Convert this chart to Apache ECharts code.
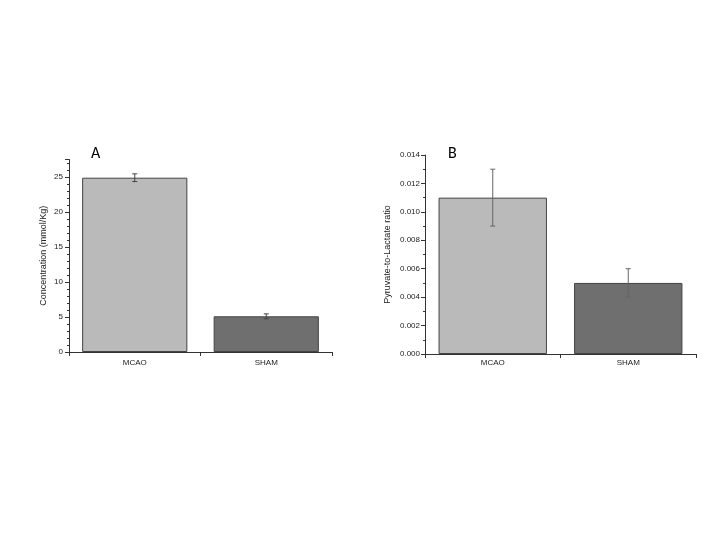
<!DOCTYPE html>
<html>
<head>
<meta charset="utf-8">
<script src="https://cdn.jsdelivr.net/npm/echarts@6/dist/echarts.min.js"></script>
<style>
  html, body { margin: 0; padding: 0; background: #fff; }
  #main { width: 720px; height: 540px; }
</style>
</head>
<body>
<div id="main"></div>
<script>
// data
const groups = ['MCAO', 'SHAM']
const concValues = [24.9, 5.1]
const concErrors = [0.55, 0.35]
const ratioValues = [0.011, 0.005]
const ratioErrors = [0.002, 0.001]
const barColors = ['#bababa', '#6f6f6f']

const chart = echarts.init(document.getElementById('main'))

// error bars drawn through the axis scale
function errorBar (color) {
  return function (params, api) {
    const x = api.value(0)
    const lo = api.coord([x, api.value(1)])
    const hi = api.coord([x, api.value(2)])
    const cap = 2.5
    const style = { stroke: color, lineWidth: 1 }
    return {
      type: 'group',
      children: [
        { type: 'line', shape: { x1: lo[0], y1: lo[1], x2: hi[0], y2: hi[1] }, style },
        { type: 'line', shape: { x1: lo[0] - cap, y1: lo[1], x2: lo[0] + cap, y2: lo[1] }, style },
        { type: 'line', shape: { x1: hi[0] - cap, y1: hi[1], x2: hi[0] + cap, y2: hi[1] }, style }
      ]
    }
  }
}

const font = 'Liberation Sans, Arial, sans-serif'
const axisLine = { show: true, lineStyle: { color: '#333', width: 1 } }

function xAxisOf (gridIndex, margin) {
  return {
    type: 'category',
    gridIndex,
    data: groups,
    axisLine,
    axisTick: { show: true, length: 4, lineStyle: { color: '#333' } },
    axisLabel: { color: '#222', fontSize: 8, fontFamily: font, margin },
    splitLine: { show: false }
  }
}

const options = {
  animation: false,
  title: [
    { text: 'A', left: 86, top: 141, textStyle: { fontSize: 16, fontWeight: 'normal', color: '#000', fontFamily: 'Carlito, Liberation Sans, sans-serif' } },
    { text: 'B', left: 443, top: 141, textStyle: { fontSize: 16, fontWeight: 'normal', color: '#000', fontFamily: 'Carlito, Liberation Sans, sans-serif' } }
  ],
  grid: [
    { left: 69, top: 159.5, width: 263, height: 192.5 },
    { left: 425, top: 155, width: 271, height: 199 }
  ],
  xAxis: [xAxisOf(0, 7), xAxisOf(1, 5)],
  yAxis: [
    {
      type: 'value',
      gridIndex: 0,
      min: 0,
      max: 27.5,
      interval: 5,
      name: 'Concentration (mmol/Kg)',
      nameLocation: 'middle',
      nameGap: 21,
      nameTextStyle: { fontSize: 9, color: '#222', fontFamily: font },
      axisLine,
      axisTick: { show: true, length: 4, lineStyle: { color: '#333' } },
      minorTick: { show: true, splitNumber: 5, length: 2, lineStyle: { color: '#333' } },
      axisLabel: { color: '#222', fontSize: 8, fontFamily: font, margin: 6, showMaxLabel: false },
      splitLine: { show: false }
    },
    {
      type: 'value',
      gridIndex: 1,
      min: 0,
      max: 0.014,
      interval: 0.002,
      name: 'Pyruvate-to-Lactate ratio',
      nameLocation: 'middle',
      nameGap: 33,
      nameTextStyle: { fontSize: 9, color: '#222', fontFamily: font },
      axisLine,
      axisTick: { show: true, length: 4, lineStyle: { color: '#333' } },
      minorTick: { show: true, splitNumber: 2, length: 2, lineStyle: { color: '#333' } },
      axisLabel: { color: '#222', fontSize: 8, fontFamily: font, margin: 5, formatter: (v) => v.toFixed(3) },
      splitLine: { show: false }
    }
  ],
  series: [
    {
      type: 'bar',
      xAxisIndex: 0,
      yAxisIndex: 0,
      barWidth: '80%',
      data: concValues.map((v, i) => ({ value: v, itemStyle: { color: barColors[i] } })),
      itemStyle: { borderColor: '#444', borderWidth: 1 }
    },
    {
      type: 'custom',
      xAxisIndex: 0,
      yAxisIndex: 0,
      renderItem: errorBar('#444'),
      data: concValues.map((v, i) => [i, v - concErrors[i], v + concErrors[i]]),
      z: 5
    },
    {
      type: 'bar',
      xAxisIndex: 1,
      yAxisIndex: 1,
      barWidth: '80%',
      data: ratioValues.map((v, i) => ({ value: v, itemStyle: { color: barColors[i] } })),
      itemStyle: { borderColor: '#444', borderWidth: 1 }
    },
    {
      type: 'custom',
      xAxisIndex: 1,
      yAxisIndex: 1,
      renderItem: errorBar('#666'),
      data: ratioValues.map((v, i) => [i, v - ratioErrors[i], v + ratioErrors[i]]),
      z: 5
    }
  ]
}

chart.setOption(options)
</script>
</body>
</html>
